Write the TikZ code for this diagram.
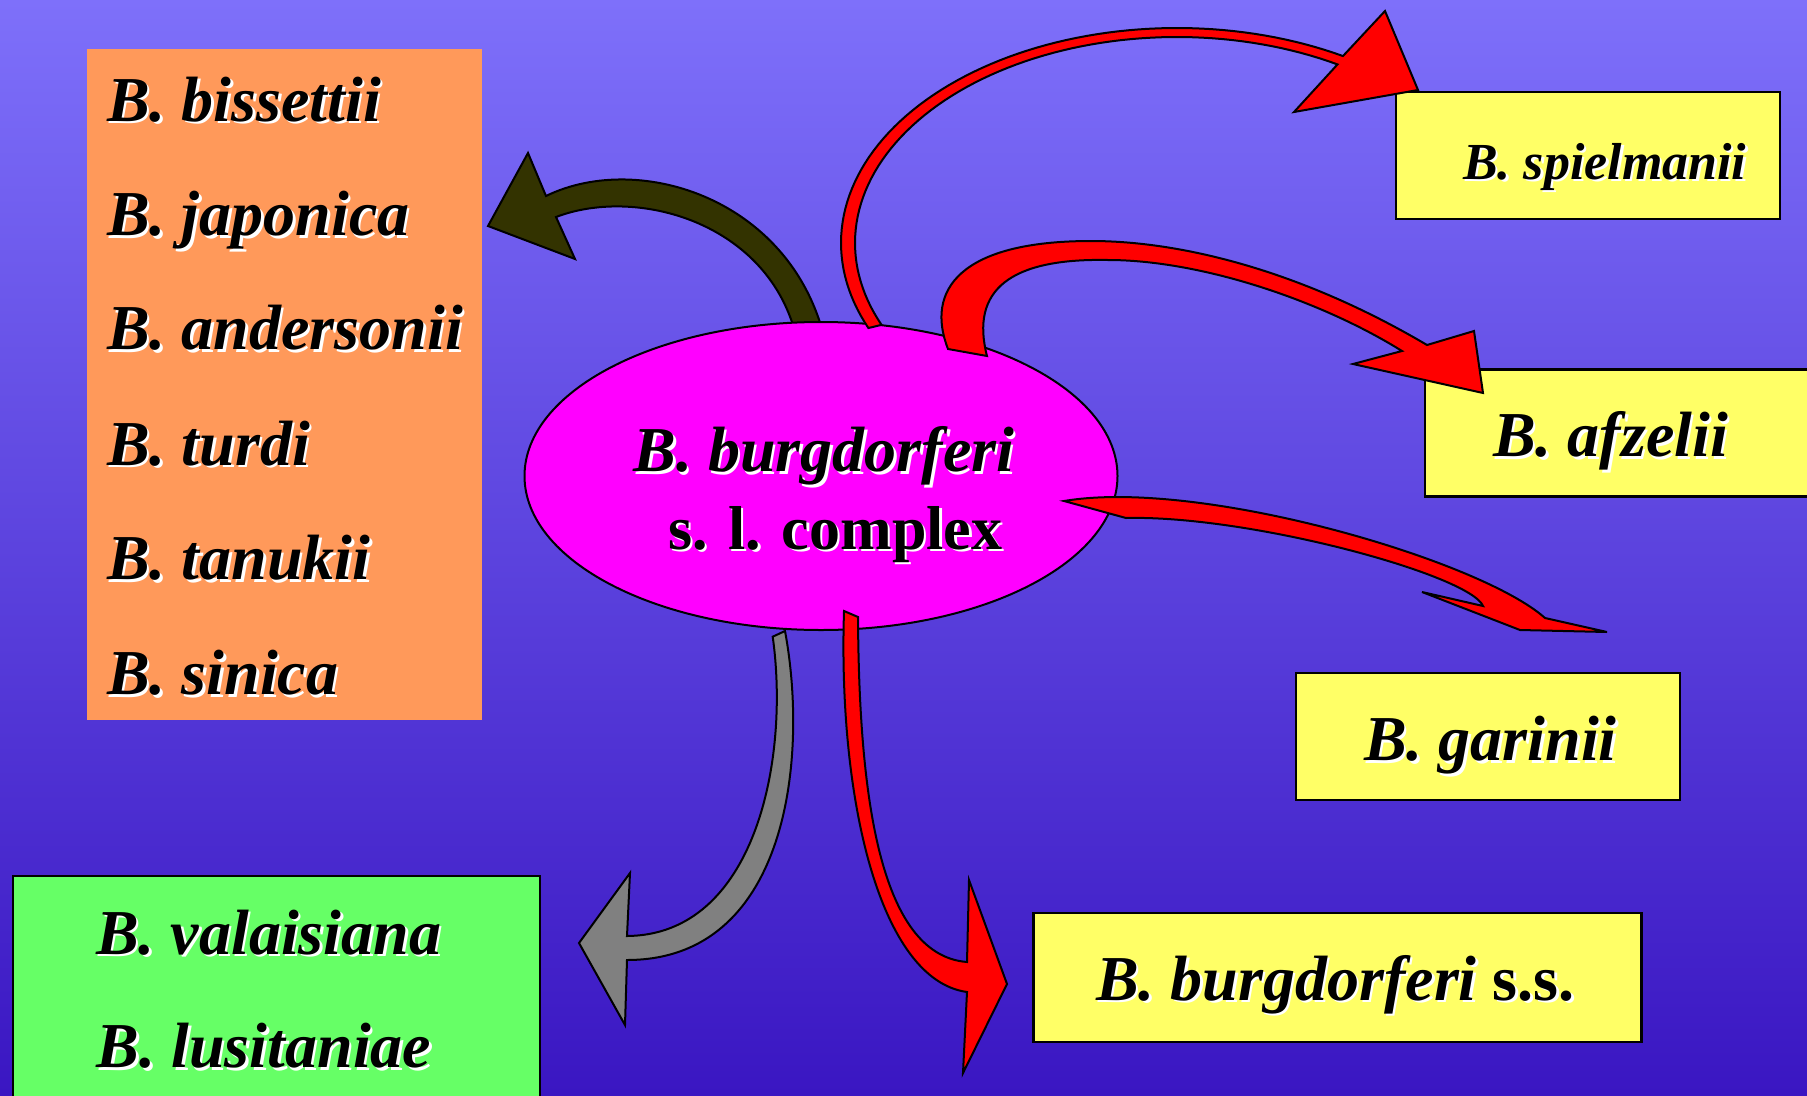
\documentclass[tikz,border=0pt]{standalone}
\usepackage{fontspec}
\setmainfont{Liberation Serif}
\usetikzlibrary{shapes.geometric,calc}
\definecolor{bgtop}{RGB}{126,112,250}
\definecolor{bgbot}{RGB}{58,22,194}
\definecolor{orangebox}{RGB}{255,153,90}
\definecolor{greenbox}{RGB}{102,255,102}
\definecolor{yellowbox}{RGB}{255,255,102}
\definecolor{olivearr}{RGB}{51,51,0}
\definecolor{grayarr}{RGB}{128,128,128}
\definecolor{pinkfill}{RGB}{255,0,255}
\definecolor{redarr}{RGB}{255,0,0}
\newcommand\shadowtxt[1]{\makebox[0pt][l]{\hspace{2.5pt}\raisebox{-2.5pt}{\color{white}#1}}#1}
\tikzset{
  lbl/.style={anchor=base west, inner sep=0pt, text=black,
              font=\fontsize{64}{70}\selectfont\bfseries\itshape},
  smalllbl/.style={lbl, font=\fontsize{52}{60}\selectfont\bfseries\itshape},
  ybox/.style={draw=black, line width=2.5pt, fill=yellowbox, inner sep=0pt, minimum height=127pt},
  blockarrow/.style={draw=black, line width=2pt, line join=miter},
}
\begin{document}
\begin{tikzpicture}[x=1pt,y=-1pt]
\useasboundingbox (0,0) rectangle (1807,1095);
\shade[top color=bgtop, bottom color=bgbot] (0,0) rectangle (1807,1095);

% boxes
\node[fill=orangebox, inner sep=0pt, minimum width=395pt, minimum height=671pt] (orange) at (284.5,384.5) {};
\node[draw=black, line width=2.5pt, fill=greenbox, inner sep=0pt, minimum width=527pt, minimum height=250pt] (green) at (276.5,1001) {};
\node[ybox, minimum width=384pt] (spiel) at (1588,155.5) {};
\node[ybox, minimum width=405pt] (afz) at (1627.5,433) {};
\node[ybox, minimum width=384pt] (gar) at (1488,736.5) {};
\node[ybox, minimum width=608pt, minimum height=129pt] (bss) at (1337.5,977.5) {};

% olive arrow (behind ellipse)
\filldraw[blockarrow, fill=olivearr] (488,226) -- (528,153) -- (546,196)
  .. controls (640,150) and (795,200) .. (826,345)
  -- (798,345)
  .. controls (775,225) and (640,185) .. (556,217)
  -- (575,259) -- cycle;

% central ellipse
\node[ellipse, draw=black, line width=2pt, fill=pinkfill, inner sep=0pt,
      minimum width=593pt, minimum height=308pt] (center) at (821,476) {};

% thin red arrow to B. spielmanii
\filldraw[blockarrow, fill=redarr] (1418,90) -- (1385,11)
  -- plot[domain=-60.4:-203.3, samples=80] ({1177+336*cos(\x)},{243+215*sin(\x)})
  -- plot[domain=-203.4:-60.1, samples=80] ({1177+322*cos(\x)},{243+206*sin(\x)})
  -- (1294,112) -- cycle;

% thick red arrow to B. afzelii
\filldraw[blockarrow, fill=redarr] (1483,393) -- (1474,331) -- (1427,345)
  .. controls (1300,270) and (1180,241) .. (1091,241)
  .. controls (960,241) and (925,290) .. (948,349)
  -- (987,356)
  .. controls (970,290) and (1010,258) .. (1108,260)
  .. controls (1200,260) and (1320,300) .. (1402,351)
  -- (1353,364) -- cycle;

% red arrow towards B. garinii
\filldraw[blockarrow, fill=redarr] (1064,501)
  .. controls (1200,478) and (1480,560) .. (1545,618)
  -- (1607,632) -- (1520,630) -- (1422,592) -- (1483,606)
  .. controls (1470,575) and (1250,515) .. (1126,518)
  -- cycle;

% gray arrow to green box
\filldraw[blockarrow, fill=grayarr] (772.7,636.7) -- (785,631)
  .. controls (809,760) and (787,960) .. (627,960)
  -- (625,1025) -- (579,943) -- (630,873) -- (627,936)
  .. controls (755,935) and (790,760) .. (772.7,636.7)
  -- cycle;

% red arrow to B. burgdorferi s.s.
\filldraw[blockarrow, fill=redarr] (858,617) -- (844,611)
  .. controls (838,800) and (880,980) .. (967,992)
  -- (963,1073) -- (1007,984) -- (969,880) -- (967,962)
  .. controls (878,955) and (859,790) .. (858,617)
  -- cycle;

% texts
\node[lbl] (t1) at (107,121) {\shadowtxt{B. bissettii}};
\node[lbl] (t2) at (107,235.5) {\shadowtxt{B. japonica}};
\node[lbl] (t3) at (107,349.7) {\shadowtxt{B. andersonii}};
\node[lbl] (t4) at (107,465) {\shadowtxt{B. turdi}};
\node[lbl] (t5) at (107,579.5) {\shadowtxt{B. tanukii}};
\node[lbl] (t6) at (107,694.6) {\shadowtxt{B. sinica}};

\node[lbl] (g1) at (96,954) {\shadowtxt{B. valaisiana}};
\node[lbl] (g2) at (96.7,1067.7) {\shadowtxt{B. lusitaniae}};

\node[smalllbl] (sp) at (1463,179) {\shadowtxt{B. spielmanii}};
\node[lbl] (af) at (1493,456.7) {\shadowtxt{B. afzelii}};
\node[lbl] (ga) at (1364,760.6) {\shadowtxt{B. garinii}};
\node[lbl] (bs) at (1096,1000) {\shadowtxt{B. burgdorferi {\upshape s.s.}}};

\node[lbl] (c1) at (633.5,471.7) {\shadowtxt{B. burgdorferi}};
\node[lbl, font=\fontsize{62}{70}\selectfont\bfseries] (c2) at (668,549) {\shadowtxt{s. l. complex}};
\end{tikzpicture}
\end{document}
